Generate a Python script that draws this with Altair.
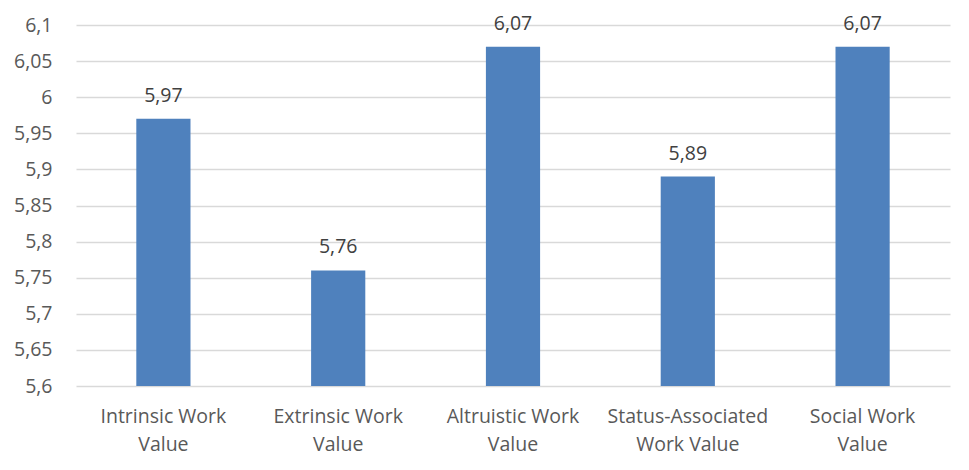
import altair as alt
import pandas as pd

categories = [
    "Intrinsic Work|Value",
    "Extrinsic Work|Value",
    "Altruistic Work|Value",
    "Status-Associated|Work Value",
    "Social Work|Value",
]
values = [5.97, 5.76, 6.07, 5.89, 6.07]
y_ticks = [5.6, 5.65, 5.7, 5.75, 5.8, 5.85, 5.9, 5.95, 6.0, 6.05, 6.1]

df = pd.DataFrame({"category": categories, "value": values})
df["label"] = [f"{v:.2f}".replace(".", ",") for v in values]

FONT = "Open Sans"
BAR = "#4F81BD"
TXT = "#595959"

x = alt.X(
    "category:N",
    sort=categories,
    title=None,
    scale=alt.Scale(paddingInner=0.69, paddingOuter=0.345),
    axis=alt.Axis(
        labelExpr="split(datum.label, '|')",
        labelAngle=0,
        labelFont=FONT,
        labelFontSize=19.5,
        labelColor=TXT,
        labelPadding=21,
        labelLineHeight=28,
        labelOverlap=False,
        ticks=False,
        domain=False,
        grid=False,
    ),
)
y = alt.Y(
    "value:Q",
    title=None,
    scale=alt.Scale(domain=[5.6, 6.1], zero=False, nice=False, clamp=True),
    axis=alt.Axis(
        values=y_ticks,
        tickCount=len(y_ticks),
        labelExpr="replace(toString(round(datum.value*100)/100), '.', ',')",
        labelFont=FONT,
        labelFontSize=19.5,
        labelColor=TXT,
        labelPadding=24,
        labelOverlap=False,
        ticks=False,
        domain=False,
        grid=True,
        gridColor="#D9D9D9",
        gridWidth=1.5,
    ),
)

bars = alt.Chart(df).mark_bar(color=BAR, clip=True).encode(
    x=x, y=y, y2=alt.datum(5.6)
)
text = alt.Chart(df).mark_text(
    dy=-13, baseline="bottom", font=FONT, fontSize=19.5, color="#404040"
).encode(x=x, y="value:Q", text="label:N")

chart = (
    alt.layer(bars, text)
    .properties(
        width=874,
        height=361,
        autosize=alt.AutoSizeParams(type="none"),
        padding={"left": 76, "top": 25, "right": 19, "bottom": 84},
        background="white",
    )
    .configure_view(stroke=None)
)

chart.save("out.html", embed_options={"renderer": "svg", "actions": False})
